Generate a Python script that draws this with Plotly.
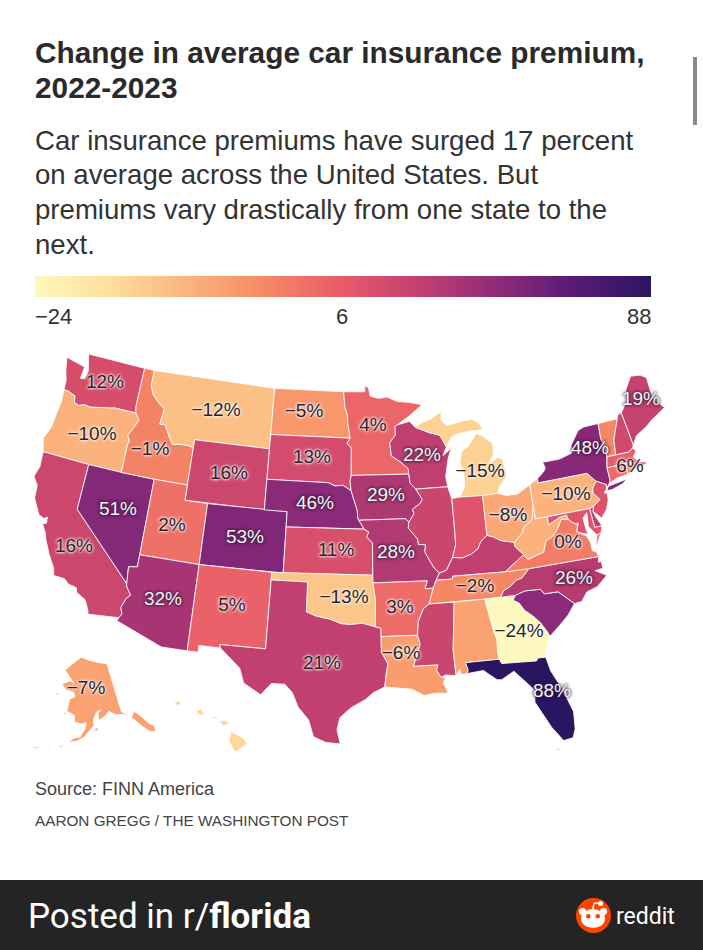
import numpy as np
import plotly.graph_objects as go
from plotly.colors import sample_colorscale

# ---------- data ----------
STATES = ["WA","OR","CA","NV","ID","MT","WY","UT","AZ","CO","NM","ND","SD","NE","KS","OK","TX","MN","IA","MO","AR","LA",
          "WI","IL","MS","MI","IN","KY","TN","AL","GA","FL","SC","NC","VA","WV","OH","PA","NY","VT","NH","ME","MA","CT","RI","NJ","DE","MD","DC","AK","HI"]
VALUES = [12,-10,16,51,-1,-12,16,2,32,53,5,-5,13,46,11,-13,21,4,29,28,3,-6,
          22,17,17,-15,9,22,-2,-7,-24,88,46,26,0,-10,-8,-10,48,-2,14,19,6,3,0,10,20,9,12,-7,-16]

LABELLED = ["WA","OR","CA","NV","ID","MT","WY","UT","CO","AZ","NM","ND","SD","NE","KS","OK","TX","MN","IA","MO","AR","LA",
            "WI","MI","OH","PA","VA","NC","TN","GA","FL","NY","ME","MA","AK"]
LIGHT_TEXT = ["NV","CO","AZ","NE","IA","MO","WI","NY","NC","FL","ME"]

TITLE_LINES = ["Change in average car insurance premium,", "2022-2023"]
SUB_LINES = ["Car insurance premiums have surged 17 percent", "on average across the United States. But",
             "premiums vary drastically from one state to the", "next."]
SCALE_TICKS = ["−24", "6", "88"]

# colour ramp (position on the legend bar -> colour)
RAMP = [[0.0,"#fdf8bd"],[0.12,"#fddf9c"],[0.25,"#fcb27c"],[0.37,"#f68a64"],[0.5,"#e8596a"],
        [0.62,"#c2416f"],[0.75,"#8f2b78"],[0.87,"#5a1b77"],[1.0,"#2a1560"]]
# legend is a quantile scale: state value -> position on the bar
VALUE_BREAKS = [-24,-15,-12,-10,-5,-1,2,6,11,16,22,29,32,46,53,88]
BAR_POS      = [0,.16,.21,.25,.33,.39,.44,.49,.55,.59,.63,.67,.69,.76,.78,1]

# outlines: lon, lat rings
OUTLINES = {
"WA":[[(-124.7,48.38),(-123.1,48.15),(-122.75,48.1),(-122.85,47.3),(-122.45,47.35),(-122.3,47.9),(-122.5,48.4),(-122.75,49.0),(-117.03,49.0),(-117.04,46.42),(-116.92,45.99),(-118.98,46.0),(-119.3,45.93),(-119.9,45.83),(-120.65,45.74),(-121.2,45.65),(-121.8,45.7),(-122.3,45.55),(-122.75,45.65),(-122.9,46.1),(-123.2,46.15),(-123.55,46.26),(-124.05,46.27),(-124.1,46.9),(-124.4,47.5)]],
"OR":[[(-124.05,46.27),(-123.55,46.26),(-123.2,46.15),(-122.9,46.1),(-122.75,45.65),(-122.3,45.55),(-121.8,45.7),(-121.2,45.65),(-120.65,45.74),(-119.9,45.83),(-119.3,45.93),(-118.98,46.0),(-116.92,45.99),(-116.7,45.8),(-116.47,45.6),(-116.67,45.3),(-116.85,44.95),(-117.2,44.45),(-117.03,44.25),(-116.93,44.1),(-117.03,43.83),(-117.03,42.0),(-120,42),(-124.21,42.0),(-124.55,42.84),(-124.15,43.7),(-124.05,44.7),(-123.95,45.5)]],
"CA":[[(-124.21,42),(-120.0,42),(-120.0,39.0),(-114.63,35.0),(-114.57,34.8),(-114.14,34.3),(-114.43,34.05),(-114.72,33.4),(-114.53,33.0),(-114.72,32.72),(-117.12,32.53),(-117.25,32.85),(-117.6,33.4),(-118.4,33.75),(-118.5,34.03),(-119.2,34.15),(-119.6,34.42),(-120.5,34.45),(-120.65,34.9),(-121.3,35.7),(-121.9,36.6),(-122.05,36.95),(-122.5,37.5),(-122.2,37.6),(-122.25,38.0),(-122.5,37.85),(-123.0,38.0),(-123.75,38.95),(-123.85,39.8),(-124.35,40.3),(-124.1,41.0)]],
"NV":[[(-120,42),(-117.03,42),(-114.04,42),(-114.04,36.2),(-114.75,36.1),(-114.63,35.0),(-120,39)]],
"ID":[[(-117.03,49),(-116.05,49),(-116.05,48.0),(-115.7,47.45),(-114.95,46.93),(-114.35,46.65),(-114.5,45.6),(-114.0,45.65),(-113.45,44.95),(-113.0,44.45),(-112.3,44.55),(-111.5,44.55),(-111.05,44.48),(-111.05,42.0),(-114.04,42),(-117.03,42),(-117.03,43.83),(-116.93,44.1),(-117.03,44.25),(-117.2,44.45),(-116.85,44.95),(-116.67,45.3),(-116.47,45.6),(-116.7,45.8),(-116.92,45.99),(-117.04,46.42)]],
"MT":[[(-116.05,49),(-104.05,49),(-104.05,45),(-111.05,45),(-111.05,44.48),(-111.5,44.55),(-112.3,44.55),(-113.0,44.45),(-113.45,44.95),(-114.0,45.65),(-114.5,45.6),(-114.35,46.65),(-114.95,46.93),(-115.7,47.45),(-116.05,48.0)]],
"WY":[[(-111.05,45),(-104.05,45),(-104.05,41),(-111.05,41)]],
"UT":[[(-114.04,42),(-111.05,42),(-111.05,41),(-109.05,41),(-109.05,37),(-114.04,37)]],
"CO":[[(-109.05,41),(-102.05,41),(-102.05,37),(-109.05,37)]],
"AZ":[[(-114.04,37),(-109.05,37),(-109.05,31.33),(-111.07,31.33),(-114.81,32.5),(-114.72,32.72),(-114.53,33.0),(-114.72,33.4),(-114.43,34.05),(-114.14,34.3),(-114.57,34.8),(-114.63,35),(-114.75,36.1),(-114.04,36.2)]],
"NM":[[(-109.05,37),(-103.0,37),(-103.04,32),(-106.62,32),(-106.53,31.78),(-108.21,31.78),(-108.21,31.33),(-109.05,31.33)]],
"ND":[[(-104.05,49),(-97.23,49),(-97.1,48.0),(-96.85,47.5),(-96.8,46.9),(-96.56,45.94),(-104.05,45.94)]],
"SD":[[(-104.05,45.94),(-96.56,45.94),(-96.85,45.6),(-96.45,45.3),(-96.45,43.5),(-96.55,43.1),(-96.45,42.5),(-97.2,42.85),(-97.9,42.8),(-98.5,43.0),(-104.05,43)]],
"NE":[[(-104.05,43),(-98.5,43),(-97.9,42.8),(-97.2,42.85),(-96.45,42.5),(-96.1,41.7),(-95.9,41.2),(-95.85,40.7),(-95.31,40.0),(-102.05,40),(-102.05,41),(-104.05,41)]],
"KS":[[(-102.05,40),(-95.31,40),(-94.9,39.8),(-95.1,39.5),(-94.61,39.1),(-94.62,37),(-102.05,37)]],
"OK":[[(-103,37),(-94.62,37),(-94.43,35.4),(-94.48,33.64),(-95.5,33.88),(-96.5,33.8),(-97.2,33.85),(-98.1,34.13),(-99.2,34.3),(-100,34.56),(-100,36.5),(-103,36.5)]],
"TX":[[(-103,36.5),(-100,36.5),(-100,34.56),(-99.2,34.3),(-98.1,34.13),(-97.2,33.85),(-96.5,33.8),(-95.5,33.88),(-94.48,33.64),(-94.04,33.55),(-94.04,33.0),(-94.04,32),(-93.55,31.2),(-93.7,30.6),(-93.84,29.7),(-94.7,29.35),(-95.3,28.9),(-96.4,28.35),(-97.2,27.7),(-97.4,26.9),(-97.15,25.96),(-98.2,26.05),(-99.1,26.4),(-99.5,27.5),(-100.3,28.3),(-100.8,29.25),(-101.4,29.77),(-102.4,29.77),(-102.9,29.25),(-103.15,28.98),(-104.5,29.65),(-104.9,30.6),(-106.0,31.4),(-106.53,31.78),(-106.62,32),(-103.04,32)]],
"MN":[[(-97.23,49),(-95.15,49),(-95.15,49.38),(-94.8,49.3),(-94.6,48.7),(-93.8,48.55),(-92.95,48.62),(-92.0,48.3),(-90.8,48.2),(-89.6,48.0),(-90.9,47.3),(-92.1,46.75),(-92.3,46.65),(-92.3,46.1),(-92.85,45.6),(-92.75,44.75),(-91.9,44.3),(-91.25,43.85),(-91.22,43.5),(-96.45,43.5),(-96.45,45.3),(-96.85,45.6),(-96.56,45.94),(-96.8,46.9),(-96.85,47.5),(-97.1,48.0)]],
"IA":[[(-96.45,43.5),(-91.22,43.5),(-91.15,42.9),(-90.65,42.5),(-90.15,41.8),(-90.35,41.55),(-91.05,41.2),(-90.95,40.9),(-91.42,40.38),(-91.73,40.61),(-95.77,40.58),(-95.85,40.7),(-95.9,41.2),(-96.1,41.7),(-96.45,42.5),(-96.55,43.1)]],
"MO":[[(-95.77,40.58),(-91.73,40.61),(-91.42,40.38),(-91.5,40.0),(-90.75,39.25),(-90.7,38.9),(-90.1,38.85),(-90.2,38.4),(-89.9,37.9),(-89.5,37.3),(-89.1,36.95),(-89.42,36.5),(-89.7,36.0),(-90.37,36.0),(-90.15,36.5),(-94.62,36.5),(-94.62,37),(-94.61,39.1),(-95.1,39.5),(-94.9,39.8),(-95.31,40)]],
"AR":[[(-94.62,36.5),(-90.15,36.5),(-90.37,36),(-89.7,36),(-90.1,35.0),(-90.6,34.7),(-91.05,33.9),(-91.17,33.0),(-94.04,33.0),(-94.04,33.55),(-94.48,33.64),(-94.43,35.4)]],
"LA":[[(-94.04,33),(-91.17,33),(-91.0,32.4),(-91.6,31.0),(-89.73,31.0),(-89.85,30.65),(-89.55,30.18),(-89.2,30.15),(-89.4,29.8),(-89.1,29.1),(-90.1,29.15),(-90.9,29.05),(-91.8,29.5),(-92.6,29.6),(-93.84,29.7),(-93.7,30.6),(-93.55,31.2),(-94.04,32)]],
"MS":[[(-90.1,35.0),(-88.2,35.0),(-88.1,34.9),(-88.47,31.9),(-88.4,30.2),(-89.2,30.3),(-89.55,30.18),(-89.85,30.65),(-89.73,31),(-91.6,31),(-91,32.4),(-91.17,33),(-91.05,33.9),(-90.6,34.7)]],
"AL":[[(-88.2,35),(-85.6,35),(-85.18,32.87),(-85.0,32.3),(-85.05,31.55),(-85.0,31.0),(-87.6,31.0),(-87.45,30.5),(-87.55,30.28),(-88.0,30.23),(-88.1,30.6),(-88.4,30.2),(-88.47,31.9),(-88.1,34.9)]],
"GA":[[(-85.6,35),(-84.32,35),(-83.11,35),(-83.35,34.7),(-82.9,34.47),(-82.55,33.95),(-81.95,33.5),(-81.45,33.0),(-81.0,32.3),(-80.88,32.03),(-81.2,31.5),(-81.45,30.72),(-82.05,30.75),(-82.2,30.57),(-84.86,30.7),(-85.0,31.0),(-85.05,31.55),(-85.0,32.3),(-85.18,32.87)]],
"FL":[[(-87.6,31),(-85,31),(-84.86,30.7),(-82.2,30.57),(-82.05,30.75),(-81.45,30.72),(-81.25,29.8),(-80.6,28.5),(-80.05,26.9),(-80.15,25.75),(-80.4,25.2),(-81.1,25.12),(-81.8,26.1),(-82.2,26.9),(-82.75,27.9),(-82.65,28.7),(-83.3,29.4),(-84.0,30.1),(-85.0,29.65),(-85.35,29.68),(-86.3,30.38),(-87.55,30.28),(-87.45,30.5)],
      [(-81.85,24.55),(-81.3,24.7),(-81.6,24.55)]],
"SC":[[(-83.35,34.7),(-83.11,35),(-82.3,35.2),(-81.04,35.15),(-80.8,34.82),(-79.67,34.8),(-78.55,33.86),(-79.2,33.2),(-79.9,32.7),(-80.88,32.03),(-81.0,32.3),(-81.45,33),(-81.95,33.5),(-82.55,33.95),(-82.9,34.47)]],
"NC":[[(-84.32,35),(-84.0,35.4),(-83.5,35.57),(-82.9,35.95),(-82.4,36.05),(-81.7,36.59),(-75.87,36.55),(-76.0,36.2),(-75.75,36.2),(-75.75,35.75),(-76.4,35.7),(-75.55,35.25),(-76.5,34.65),(-77.4,34.45),(-77.95,33.9),(-78.55,33.86),(-79.67,34.8),(-80.8,34.82),(-81.04,35.15),(-82.3,35.2),(-83.11,35)]],
"TN":[[(-90.1,35),(-89.7,36),(-89.42,36.5),(-88.05,36.5),(-88.05,36.68),(-83.68,36.6),(-81.7,36.59),(-82.4,36.05),(-82.9,35.95),(-83.5,35.57),(-84,35.4),(-84.32,35),(-85.6,35),(-88.2,35)]],
"KY":[[(-89.42,36.5),(-89.1,36.95),(-88.5,37.1),(-87.9,37.9),(-87.1,37.8),(-86.3,38.0),(-85.7,38.3),(-85.4,38.75),(-84.82,39.1),(-84.3,38.95),(-83.7,38.65),(-82.6,38.42),(-82.6,38.15),(-81.97,37.54),(-83.68,36.6),(-88.05,36.68),(-88.05,36.5)]],
"VA":[[(-83.68,36.6),(-81.97,37.54),(-81.68,37.2),(-80.3,37.5),(-79.95,38.2),(-79.3,38.42),(-78.87,38.77),(-78.35,39.4),(-77.75,39.32),(-77.5,39.1),(-77.05,38.85),(-77.25,38.4),(-76.5,38.0),(-76.3,37.55),(-76.3,37.0),(-76.0,36.9),(-75.87,36.55),(-81.7,36.59)],
      [(-75.95,37.15),(-75.65,37.95),(-75.25,38.03)]],
"WV":[[(-81.97,37.54),(-82.6,38.15),(-82.6,38.42),(-81.75,39.0),(-81.7,39.25),(-80.85,39.7),(-80.52,40.64),(-80.52,39.72),(-79.48,39.72),(-79.48,39.2),(-78.45,39.55),(-77.83,39.6),(-77.75,39.32),(-78.35,39.4),(-78.87,38.77),(-79.3,38.42),(-79.95,38.2),(-80.3,37.5),(-81.68,37.2)]],
"OH":[[(-84.8,41.7),(-83.45,41.73),(-82.7,41.5),(-81.7,41.5),(-80.52,41.98),(-80.52,40.64),(-80.85,39.7),(-81.7,39.25),(-81.75,39.0),(-82.6,38.42),(-83.7,38.65),(-84.3,38.95),(-84.82,39.1)]],
"IN":[[(-87.53,41.72),(-87.2,41.76),(-86.8,41.76),(-84.8,41.7),(-84.82,39.1),(-85.4,38.75),(-85.7,38.3),(-86.3,38),(-87.1,37.8),(-87.9,37.9),(-87.55,38.7),(-87.53,39.35)]],
"IL":[[(-90.65,42.5),(-87.8,42.5),(-87.6,41.9),(-87.53,41.72),(-87.53,39.35),(-87.55,38.7),(-87.9,37.9),(-88.5,37.1),(-89.1,36.95),(-89.5,37.3),(-89.9,37.9),(-90.2,38.4),(-90.1,38.85),(-90.7,38.9),(-90.75,39.25),(-91.5,40),(-91.42,40.38),(-90.95,40.9),(-91.05,41.2),(-90.35,41.55),(-90.15,41.8)]],
"WI":[[(-92.1,46.75),(-90.9,46.95),(-90.4,46.55),(-89.1,46.13),(-88.1,45.9),(-87.8,45.35),(-87.6,45.1),(-88.0,44.55),(-87.35,44.9),(-87.05,45.25),(-87.55,44.3),(-87.9,43.2),(-87.8,42.5),(-90.65,42.5),(-91.15,42.9),(-91.22,43.5),(-91.25,43.85),(-91.9,44.3),(-92.75,44.75),(-92.85,45.6),(-92.3,46.1),(-92.3,46.65)]],
"MI":[[(-86.8,41.76),(-84.8,41.7),(-83.45,41.73),(-83.1,42.25),(-82.5,42.7),(-82.45,43.0),(-82.6,43.9),(-83.0,44.05),(-83.9,43.7),(-83.35,44.3),(-83.3,45.0),(-84.2,45.6),(-84.75,45.78),(-85.1,45.4),(-85.6,45.0),(-86.25,44.7),(-86.5,44.0),(-86.25,43.1),(-86.3,42.4)],
      [(-90.4,46.55),(-89.1,46.13),(-88.1,45.9),(-87.8,45.35),(-87.6,45.1),(-87.0,45.75),(-86.3,45.9),(-85.0,46.0),(-84.7,45.95),(-84.0,46.0),(-84.4,46.5),(-85.0,46.75),(-86.1,46.67),(-87.4,46.5),(-87.9,46.9),(-87.8,47.47),(-88.9,47.0),(-89.8,46.8)]],
"PA":[[(-80.52,41.98),(-79.76,42.27),(-79.76,42),(-75.35,42),(-75.05,41.75),(-74.7,41.36),(-75.13,40.97),(-75.2,40.65),(-74.72,40.15),(-75.42,39.8),(-75.78,39.72),(-79.48,39.72),(-80.52,39.72),(-80.52,40.64)]],
"NY":[[(-79.76,42.27),(-79.05,42.7),(-78.9,42.9),(-79.05,43.27),(-77.5,43.27),(-76.3,43.5),(-76.2,44.0),(-75.3,44.85),(-74.7,45),(-73.34,45),(-73.43,44.0),(-73.25,43.55),(-73.27,42.75),(-73.5,42.05),(-73.49,41.2),(-73.65,41.0),(-73.9,40.8),(-73.9,41.0),(-74.7,41.36),(-75.05,41.75),(-75.35,42),(-79.76,42)],
      [(-74.0,40.6),(-73.75,40.87),(-72.6,40.98),(-72.0,41.05),(-72.5,40.8),(-73.5,40.6)]],
"NJ":[[(-73.9,41.0),(-74.7,41.36),(-75.13,40.97),(-75.2,40.65),(-74.72,40.15),(-75.42,39.8),(-75.55,39.5),(-74.95,38.95),(-74.4,39.4),(-74.05,40.0),(-74.0,40.45),(-74.25,40.5),(-74.0,40.7)]],
"DE":[[(-75.78,39.72),(-75.42,39.8),(-75.55,39.5),(-75.4,39.1),(-75.05,38.45),(-75.7,38.46)]],
"MD":[[(-79.48,39.72),(-75.78,39.72),(-75.7,38.46),(-75.05,38.45),(-75.25,38.03),(-75.65,37.95),(-75.85,38.2),(-76.2,38.6),(-76.1,39.3),(-76.1,39.5),(-76.5,39.2),(-76.45,38.5),(-76.35,38.1),(-76.9,38.3),(-77.25,38.4),(-77.05,38.85),(-77.5,39.1),(-77.75,39.32),(-77.83,39.6),(-78.45,39.55),(-79.48,39.2)]],
"DC":[[(-77.12,38.93),(-77.04,39.0),(-76.95,38.9),(-77.04,38.82)]],
"CT":[[(-73.5,42.05),(-71.8,42.02),(-71.85,41.32),(-72.9,41.25),(-73.65,41.0),(-73.49,41.2)]],
"RI":[[(-71.8,42.02),(-71.38,42.02),(-71.2,41.5),(-71.85,41.32)]],
"MA":[[(-73.5,42.05),(-73.27,42.75),(-72.46,42.73),(-71.3,42.7),(-70.85,42.88),(-70.6,42.65),(-71.0,42.3),(-70.6,41.95),(-70.05,41.78),(-70.2,42.07),(-69.95,41.7),(-70.6,41.55),(-71.2,41.5),(-71.38,42.02),(-71.8,42.02)]],
"NH":[[(-72.46,42.73),(-71.3,42.7),(-70.85,42.88),(-70.7,43.07),(-71.0,45.3),(-71.4,45.25),(-71.5,45.0),(-72.05,44.1),(-72.3,43.7)]],
"VT":[[(-73.27,42.75),(-72.46,42.73),(-72.3,43.7),(-72.05,44.1),(-71.5,45.0),(-73.34,45),(-73.43,44.0),(-73.25,43.55)]],
"ME":[[(-70.7,43.07),(-71.0,45.3),(-70.3,45.9),(-70.0,46.7),(-69.23,47.46),(-68.3,47.35),(-67.8,47.07),(-67.8,45.7),(-67.45,45.3),(-67.0,44.85),(-68.5,44.3),(-69.1,44.0),(-70.2,43.6)]],
"AK":[[(-141,69.65),(-141,60.3),(-139.7,59.9),(-137.5,58.9),(-135.5,59.75),(-133.5,58.4),(-131.5,56.6),(-130.0,55.9),(-130.5,54.8),(-132.5,55.2),(-134.5,56.5),(-135.5,57.5),(-136.6,58.2),(-138,59),(-140,59.7),(-144,60),(-146.5,60.8),(-148.5,60.0),(-151.7,59.2),(-151.5,60.6),(-150,61.2),(-152,60.9),(-153.9,59.4),(-154,58.3),(-156.5,57.0),(-158.5,56),(-161,55.2),(-164.5,54.6),(-162.5,55.6),(-160,56.0),(-158,57.5),(-157.2,58.8),(-159,58.5),(-162,58.7),(-162,60),(-165.3,60.6),(-164,63),(-161.5,63.6),(-162,64.4),(-166,64.6),(-168,65.6),(-164,66.5),(-162,66.2),(-163.7,67.1),(-166.7,68.4),(-163,69.7),(-160,70.6),(-156.6,71.35),(-152,70.8),(-146,70.15)],
      [(-154.5,57.5),(-152.3,58.0),(-152.8,57.2)],[(-171.5,63.4),(-168.8,63.3),(-170,63.7)],[(-167,60.2),(-165.5,60.3),(-166,59.8)],
      [(-168.5,53.3),(-166.2,53.9),(-166.8,53.4)],[(-172.5,52.2),(-170.5,52.8),(-171,52.4)],[(-177,51.8),(-175,52.2),(-174,52.1),(-176,51.7)]],
"HI":[[(-155.9,20.25),(-155.1,19.85),(-154.8,19.5),(-155.65,18.95),(-156.05,19.7)],[(-156.7,20.95),(-156.25,20.95),(-156.0,20.75),(-156.4,20.6)],
      [(-158.25,21.55),(-157.95,21.7),(-157.65,21.3),(-158.1,21.3)],[(-159.75,22.1),(-159.4,22.2),(-159.3,21.95),(-159.6,21.9)],[(-157.3,21.2),(-156.7,21.15),(-156.75,21.05),(-157.2,21.1)]],
}

# ---------- layout helpers (placement, not data) ----------
LABEL_XY = {"WA":(105,383),"OR":(92,435),"CA":(74,547),"NV":(118,510),"ID":(150,450),"MT":(216,411),"WY":(229,474),"UT":(172,526),
 "CO":(245,538),"AZ":(163,600),"NM":(232,606),"ND":(304,412),"SD":(312,458),"NE":(315,504),"KS":(336,551),"OK":(344,598),"TX":(322,664),
 "MN":(373,426),"IA":(386,496),"MO":(396,553),"AR":(400,608),"LA":(401,654),"WI":(422,456),"MI":(480,472),"OH":(508,516),"PA":(566,495),
 "VA":(568,543),"NC":(574,579),"TN":(475,587),"GA":(519,632),"FL":(552,692),"NY":(590,449),"ME":(641,400),"MA":(630,467),"AK":(86,689)}

CTRL48 = [((-124.7,48.38),(67,358)),((-122.75,49),(90,355)),((-117.03,49),(146,368)),((-104.05,49),(277,389)),((-104.05,41),(267,510)),
          ((-109.05,41),(208,505)),((-102.05,37),(285,573)),((-109.05,37),(201,564)),((-120,42),(90,466)),((-114.63,35),(129,583)),
          ((-67,44.85),(667,408)),((-81,25.1),(570,741)),((-97.15,25.96),(315,745)),((-124.35,40.3),(35,477)),((-80.52,41.98),(533,487)),
          ((-84.82,39.1),(488,537)),((-75.05,38.45),(603,527)),((-90.65,42.5),(412,477))]
CTRL_AK = [((-156.6,71.35),(83,658)),((-141,69.65),(112,663)),((-141,60.3),(120,713)),((-130,55),(158,732)),((-168,65.6),(58,685)),
           ((-165.3,60.6),(58,710)),((-164.5,54.6),(63,742)),((-177,51.8),(42,749)),((-151.7,59.2),(100,716))]
CTRL_HI = [((-155.5,19.6),(237,742)),((-159.5,22.05),(178,703))]

def albers(lon, lat, lon0, lat0, p1, p2):
    lon, lat = np.radians(lon), np.radians(lat)
    l0, f0, f1, f2 = map(np.radians, (lon0, lat0, p1, p2))
    n = (np.sin(f1) + np.sin(f2)) / 2
    c = np.cos(f1)**2 + 2*n*np.sin(f1)
    rho = np.sqrt(c - 2*n*np.sin(lat)) / n
    rho0 = np.sqrt(c - 2*n*np.sin(f0)) / n
    th = n * (lon - l0)
    return rho*np.sin(th), rho0 - rho*np.cos(th)

def fitted(ctrl, params):
    ll = np.array([c[0] for c in ctrl], float)
    px = np.array([c[1] for c in ctrl], float)
    X, Y = albers(ll[:,0], ll[:,1], *params)
    ax = np.polyfit(X, px[:,0], 1)
    ay = np.polyfit(Y, px[:,1], 1)
    return lambda lon, lat: (np.polyval(ax, albers(np.asarray(lon), np.asarray(lat), *params)[0]),
                             np.polyval(ay, albers(np.asarray(lon), np.asarray(lat), *params)[1]))

def fitted_affine(ctrl, params):
    ll = np.array([c[0] for c in ctrl], float)
    px = np.array([c[1] for c in ctrl], float)
    X, Y = albers(ll[:,0], ll[:,1], *params)
    A = np.column_stack([X, Y, np.ones_like(X)])
    cx = np.linalg.lstsq(A, px[:,0], rcond=None)[0]
    cy = np.linalg.lstsq(A, px[:,1], rcond=None)[0]
    def f(lon, lat):
        u, v = albers(np.asarray(lon), np.asarray(lat), *params)
        return cx[0]*u + cx[1]*v + cx[2], cy[0]*u + cy[1]*v + cy[2]
    return f

P48 = (-96, 37.5, 29.5, 45.5)
to48 = fitted(CTRL48, P48)
toAK = fitted_affine(CTRL_AK, (-154, 50, 55, 65))
toHI = fitted(CTRL_HI, (-157, 20, 8, 18))
PROJ = {"AK": toAK, "HI": toHI}

def color_for(v):
    return sample_colorscale(RAMP, [float(np.interp(v, VALUE_BREAKS, BAR_POS))])[0]

fig = go.Figure()
for st, v in zip(STATES, VALUES):
    proj = PROJ.get(st, to48)
    xs, ys = [], []
    for ring in OUTLINES[st]:
        r = np.array(ring + [ring[0]], float)
        x, y = proj(r[:,0], r[:,1])
        xs += list(x) + [None]
        ys += list(y) + [None]
    fig.add_trace(go.Scatter(x=xs, y=ys, mode="lines", fill="toself", fillcolor=color_for(v),
                             line=dict(color="rgba(255,255,255,0.85)", width=1), name=st,
                             text=f"{st}: {v}%", hoverinfo="text", showlegend=False))

def fmt(v):
    return (f"−{abs(v)}%" if v < 0 else f"{v}%")

val = dict(zip(STATES, VALUES))
for group, col, halo in [
    ([s for s in LABELLED if s not in LIGHT_TEXT], "#2b2226",
     "0 0 2px rgba(255,255,255,0.75), 0 0 3px rgba(255,255,255,0.75), 0 0 3px rgba(255,255,255,0.75), 0 0 4px rgba(255,255,255,0.5)"),
    (LIGHT_TEXT, "#f8f4f8",
     "0 0 2px rgba(45,30,55,0.6), 0 0 3px rgba(45,30,55,0.6), 0 0 3px rgba(45,30,55,0.6), 0 0 4px rgba(45,30,55,0.4)")]:
    fig.add_trace(go.Scatter(x=[LABEL_XY[s][0] for s in group], y=[LABEL_XY[s][1] for s in group],
                             mode="text", text=[fmt(val[s]) for s in group], textposition="middle center",
                             textfont=dict(family="Liberation Sans", size=19, color=col, shadow=halo),
                             hoverinfo="skip", showlegend=False))

# legend bar
bar_pos = np.linspace(0, 1, 200)
fig.add_trace(go.Heatmap(x=bar_pos, y=[0, 1], z=[bar_pos, bar_pos], colorscale=RAMP, zmin=0, zmax=1,
                         zsmooth="best", showscale=False, hoverinfo="skip", xaxis="x2", yaxis="y2"))

ann = []
def txt(x, y, s, size, color="#2a2a2a", family="Liberation Sans", anchor="left"):
    ann.append(dict(x=x, y=y, xref="x", yref="y", text=s, showarrow=False, xanchor=anchor, yanchor="middle",
                    align=anchor, borderpad=0, font=dict(family=family, size=size, color=color)))
for line, y in zip(TITLE_LINES, (52, 87)):
    txt(34, y, f"<b>{line}</b>", 29.8)
for line, y in zip(SUB_LINES, (140, 174, 209, 244)):
    txt(34, y, line, 27.6, color="#333333")
for s, x, a in zip(SCALE_TICKS, (34, 342, 652), ("left", "center", "right")):
    txt(x, 316, s, 22, color="#333333", anchor=a)
txt(34, 789, "Source: FINN America", 18, color="#444444")
txt(34, 820, "AARON GREGG / THE WASHINGTON POST", 15.3, color="#444444")
txt(27, 916, "Posted in r/<b>florida</b>", 35, color="#ffffff", family="Roboto")
txt(615, 916, "reddit", 23, color="#ffffff", family="Roboto")

shapes = [
    dict(type="rect", x0=0, x1=703, y0=880, y1=950, fillcolor="#242424", line_width=0, layer="below"),
    dict(type="rect", x0=693, x1=697, y0=57, y1=125, fillcolor="#8a8a8a", line_width=0, layer="below"),
    dict(type="circle", x0=576, x1=611, y0=898, y1=933, fillcolor="#ff4500", line_width=0),
    dict(type="circle", x0=581, x1=605, y0=909, y1=928, fillcolor="#ffffff", line_width=0),
    dict(type="circle", x0=579, x1=586, y0=908, y1=915, fillcolor="#ffffff", line_width=0),
    dict(type="circle", x0=600, x1=607, y0=908, y1=915, fillcolor="#ffffff", line_width=0),
    dict(type="circle", x0=598, x1=603, y0=901, y1=906, fillcolor="#ffffff", line_width=0),
    dict(type="line", x0=593, x1=594, y0=909, y1=903, line=dict(color="#ffffff", width=1.5)),
    dict(type="line", x0=594, x1=600, y0=903, y1=903.5, line=dict(color="#ffffff", width=1.5)),
    dict(type="circle", x0=586, x1=590.5, y0=914, y1=918.5, fillcolor="#ff4500", line_width=0),
    dict(type="circle", x0=595.5, x1=600, y0=914, y1=918.5, fillcolor="#ff4500", line_width=0),
]

fig.update_layout(
    width=703, height=950, margin=dict(l=0, r=0, t=0, b=0), autosize=False,
    paper_bgcolor="#ffffff", plot_bgcolor="#ffffff",
    xaxis=dict(range=[0, 703], domain=[0, 1], visible=False, fixedrange=True),
    yaxis=dict(range=[950, 0], domain=[0, 1], visible=False, fixedrange=True),
    xaxis2=dict(range=[0, 1], domain=[35/703, 651/703], anchor="y2", visible=False, fixedrange=True),
    yaxis2=dict(range=[0, 1], domain=[1-297/950, 1-276/950], anchor="x2", visible=False, fixedrange=True),
    annotations=ann, shapes=shapes,
)
fig.write_html("out.html", post_script="document.body.style.margin='0';document.documentElement.style.overflow='hidden';",
               config={"displayModeBar": False})
